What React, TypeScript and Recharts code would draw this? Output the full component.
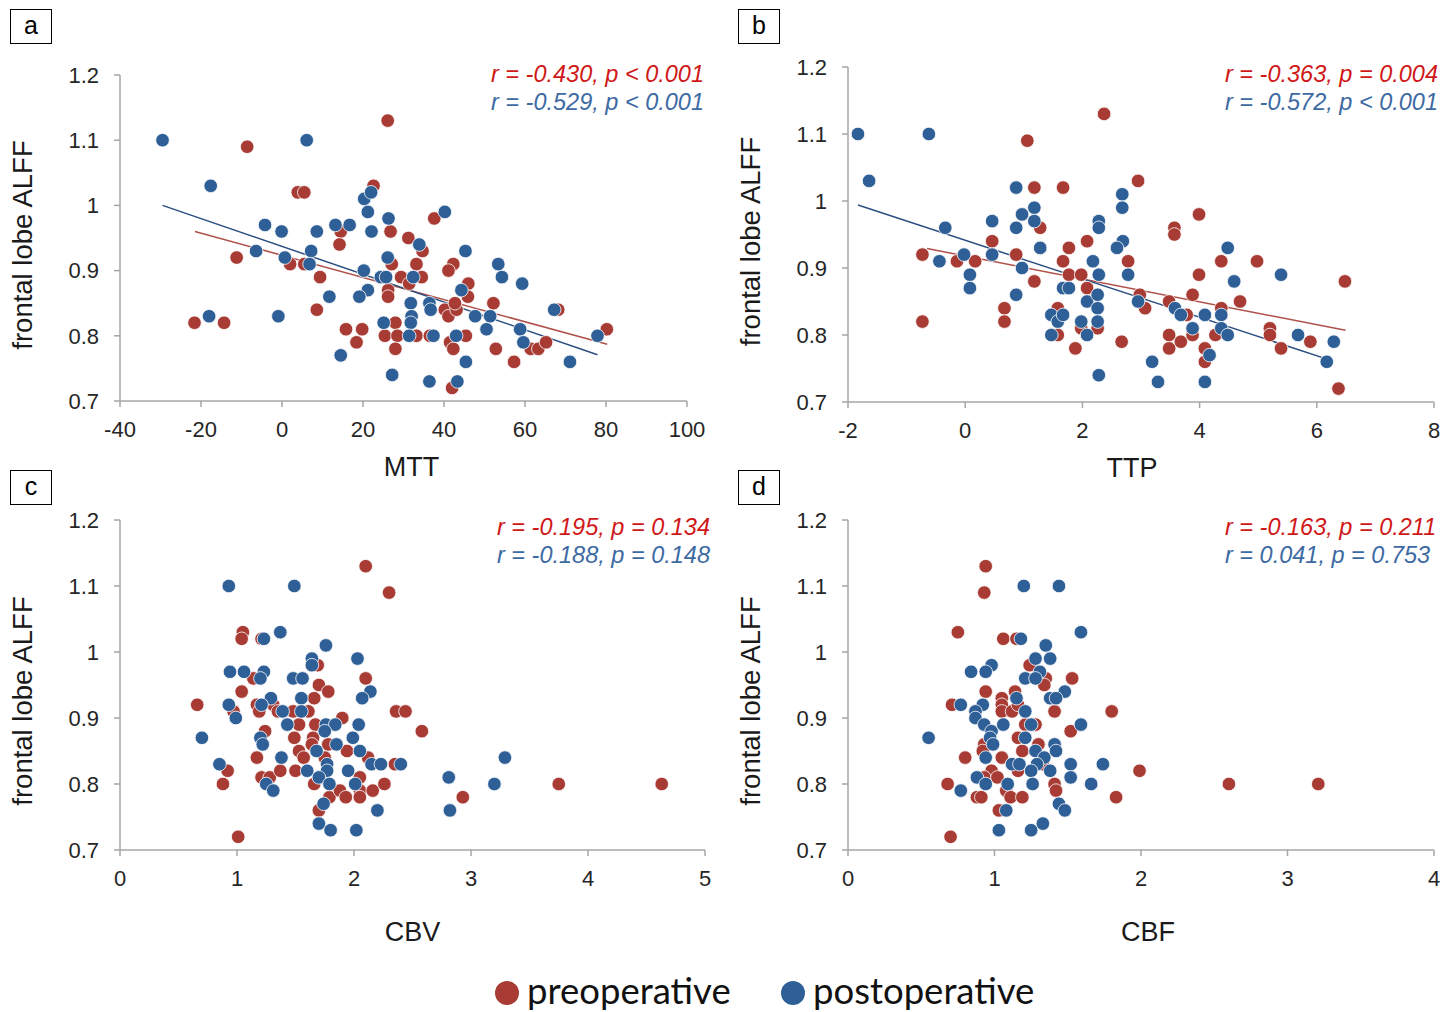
import React from 'react';
import { ScatterChart, Scatter, XAxis, YAxis, ReferenceLine, Label } from 'recharts';

// colours
const RED = '#a83c35';
const BLUE = '#2e5f96';
const RED_TEXT = '#d01818';
const BLUE_TEXT = '#3d6aa3';
const AXIS = '#a6a6a6';
const TEXT = '#262626';
const FONT = '"Liberation Sans", Arial, sans-serif';

type Pt = [number, number];

// shared y axis
const yTicks = [0.7, 0.8, 0.9, 1, 1.1, 1.2];

// x ticks per panel
const mttTicks = [-40, -20, 0, 20, 40, 60, 80, 100];
const ttpTicks = [-2, 0, 2, 4, 6, 8];
const cbvTicks = [0, 1, 2, 3, 4, 5];
const cbfTicks = [0, 1, 2, 3, 4];

// panel a: MTT vs frontal lobe ALFF
const mttPre: Pt[] = [
  [26.1, 1.13], [-8.6, 1.09], [3.9, 1.02], [5.5, 1.02], [22.6, 1.03], [-11.2, 0.92], [2.0, 0.91],
  [5.5, 0.91], [14.5, 0.96], [14.2, 0.94], [9.4, 0.89], [26.8, 0.96], [27.1, 0.91], [31.2, 0.95],
  [29.4, 0.89], [31.4, 0.88], [26.2, 0.87], [26.2, 0.86], [8.6, 0.84], [-21.6, 0.82], [-14.3, 0.82],
  [15.8, 0.81], [19.8, 0.81], [18.4, 0.79], [28.0, 0.82], [25.4, 0.8], [28.5, 0.8], [28.0, 0.78],
  [37.6, 0.98], [34.7, 0.93], [33.2, 0.91], [42.3, 0.91], [41.1, 0.9], [46.0, 0.88], [45.9, 0.86],
  [34.5, 0.89], [40.2, 0.84], [41.1, 0.83], [43.1, 0.84], [42.7, 0.85], [52.2, 0.85], [33.2, 0.8],
  [36.5, 0.8], [45.4, 0.8], [41.5, 0.79], [42.3, 0.78], [42.0, 0.72], [52.8, 0.78], [57.3, 0.76],
  [61.4, 0.78], [63.3, 0.78], [65.2, 0.79], [68.2, 0.84], [80.2, 0.81],
];
const mttPost: Pt[] = [
  [-29.5, 1.1], [6.1, 1.1], [-17.6, 1.03], [-4.2, 0.97], [-0.1, 0.96], [-6.4, 0.93], [0.7, 0.92],
  [7.2, 0.93], [6.8, 0.91], [8.6, 0.96], [13.2, 0.97], [16.7, 0.97], [20.3, 1.01], [22.0, 1.02],
  [21.2, 0.99], [22.1, 0.96], [26.3, 0.98], [26.1, 0.92], [20.2, 0.9], [24.4, 0.89], [25.7, 0.89],
  [21.2, 0.87], [19.1, 0.86], [11.7, 0.86], [-18.0, 0.83], [-0.9, 0.83], [25.1, 0.82], [14.5, 0.77],
  [27.2, 0.74], [40.2, 0.99], [33.9, 0.94], [45.3, 0.93], [53.4, 0.91], [54.3, 0.89], [59.3, 0.88],
  [44.3, 0.87], [32.4, 0.89], [31.8, 0.85], [36.4, 0.85], [36.7, 0.84], [32.0, 0.83], [31.8, 0.82],
  [31.4, 0.8], [37.4, 0.8], [43.0, 0.8], [47.7, 0.83], [51.4, 0.83], [50.5, 0.81], [58.8, 0.81],
  [59.6, 0.79], [45.4, 0.76], [67.2, 0.84], [71.1, 0.76], [77.9, 0.8], [36.4, 0.73], [43.3, 0.73],
];
const mttFitPre: Pt[] = [[-21.5, 0.96], [80.3, 0.787]];
const mttFitPost: Pt[] = [[-29.5, 1.0], [77.9, 0.771]];

// panel b: TTP
const ttpPre: Pt[] = [
  [2.37, 1.13], [1.06, 1.09], [1.18, 1.02], [1.67, 1.02], [2.95, 1.03], [-0.73, 0.92], [-0.14, 0.91],
  [0.17, 0.91], [0.46, 0.94], [0.87, 0.92], [1.28, 0.96], [1.18, 0.88], [-0.73, 0.82], [0.67, 0.84],
  [0.67, 0.82], [1.77, 0.93], [1.67, 0.91], [1.77, 0.89], [1.98, 0.89], [2.08, 0.94], [2.08, 0.87],
  [1.58, 0.84], [1.58, 0.8], [1.98, 0.81], [2.26, 0.81], [1.88, 0.78], [2.67, 0.79], [2.78, 0.91],
  [3.99, 0.98], [3.57, 0.96], [3.57, 0.95], [4.37, 0.91], [4.98, 0.91], [3.99, 0.89], [3.88, 0.86],
  [2.98, 0.86], [3.07, 0.84], [3.48, 0.85], [3.78, 0.83], [4.37, 0.84], [4.69, 0.85], [3.48, 0.8],
  [3.48, 0.78], [3.68, 0.79], [3.88, 0.8], [4.09, 0.78], [4.09, 0.76], [4.27, 0.8], [5.2, 0.81],
  [5.2, 0.8], [5.39, 0.78], [5.89, 0.79], [6.37, 0.72], [6.48, 0.88],
];
const ttpPost: Pt[] = [
  [-1.83, 1.1], [-0.62, 1.1], [-1.64, 1.03], [-0.34, 0.96], [-0.44, 0.91], [-0.02, 0.92], [0.08, 0.89],
  [0.08, 0.87], [0.46, 0.97], [0.46, 0.92], [0.87, 1.02], [0.87, 0.96], [0.97, 0.98], [1.18, 0.99],
  [1.18, 0.97], [1.28, 0.93], [0.97, 0.9], [0.87, 0.86], [1.47, 0.83], [1.58, 0.82], [1.67, 0.83],
  [1.47, 0.8], [1.67, 0.87], [1.77, 0.87], [1.98, 0.82], [2.08, 0.8], [2.08, 0.85], [2.26, 0.86],
  [2.26, 0.84], [2.26, 0.82], [2.18, 0.91], [2.28, 0.89], [2.28, 0.97], [2.28, 0.96], [2.68, 1.01],
  [2.68, 0.99], [2.69, 0.94], [2.59, 0.93], [2.78, 0.89], [2.95, 0.85], [2.28, 0.74], [4.48, 0.93],
  [4.59, 0.88], [5.39, 0.89], [3.58, 0.84], [3.68, 0.83], [4.09, 0.83], [4.37, 0.83], [3.88, 0.81],
  [4.37, 0.81], [4.48, 0.8], [4.17, 0.77], [3.19, 0.76], [3.29, 0.73], [4.09, 0.73], [5.68, 0.8],
  [6.17, 0.76], [6.29, 0.79],
];
const ttpFitPre: Pt[] = [[-0.65, 0.929], [6.49, 0.807]];
const ttpFitPost: Pt[] = [[-1.83, 0.994], [6.28, 0.761]];

// panel c: CBV
const cbvPre: Pt[] = [
  [2.1, 1.13], [2.3, 1.09], [1.05, 1.03], [1.04, 1.02], [1.21, 1.02], [1.69, 0.98], [1.14, 0.96],
  [2.1, 0.96], [1.04, 0.94], [1.7, 0.95], [1.78, 0.94], [0.66, 0.92], [1.17, 0.92], [1.19, 0.91],
  [1.31, 0.92], [1.35, 0.91], [0.97, 0.91], [1.48, 0.91], [1.61, 0.91], [1.66, 0.93], [1.9, 0.9],
  [2.36, 0.91], [2.44, 0.91], [1.53, 0.89], [1.67, 0.89], [1.24, 0.88], [1.49, 0.87], [1.65, 0.87],
  [1.64, 0.86], [1.78, 0.86], [1.53, 0.85], [1.57, 0.84], [1.94, 0.85], [1.75, 0.84], [1.17, 0.84],
  [2.12, 0.84], [0.92, 0.82], [0.88, 0.8], [1.21, 0.81], [1.28, 0.81], [1.37, 0.82], [1.5, 0.82],
  [1.66, 0.8], [2.05, 0.81], [1.79, 0.78], [1.88, 0.79], [1.93, 0.78], [2.05, 0.79], [2.05, 0.78],
  [2.16, 0.79], [2.26, 0.8], [2.35, 0.83], [1.7, 0.76], [1.01, 0.72], [2.58, 0.88], [2.93, 0.78],
  [3.75, 0.8], [4.63, 0.8],
];
const cbvPost: Pt[] = [
  [0.93, 1.1], [1.49, 1.1], [1.37, 1.03], [1.23, 1.02], [1.76, 1.01], [1.64, 0.99], [1.64, 0.98],
  [2.03, 0.99], [0.94, 0.97], [1.06, 0.97], [1.23, 0.97], [1.2, 0.96], [1.48, 0.96], [1.56, 0.96],
  [2.14, 0.94], [2.07, 0.93], [1.29, 0.93], [1.21, 0.92], [1.55, 0.93], [0.93, 0.92], [0.99, 0.9],
  [1.39, 0.91], [1.55, 0.91], [1.43, 0.89], [1.76, 0.89], [1.84, 0.89], [1.75, 0.88], [2.04, 0.89],
  [0.7, 0.87], [1.2, 0.87], [1.22, 0.86], [1.99, 0.87], [1.85, 0.86], [1.68, 0.85], [2.05, 0.85],
  [1.38, 0.84], [0.85, 0.83], [1.77, 0.83], [1.77, 0.82], [1.6, 0.82], [1.95, 0.82], [2.15, 0.83],
  [2.23, 0.83], [2.4, 0.83], [1.7, 0.81], [1.25, 0.8], [1.31, 0.79], [1.79, 0.8], [2.01, 0.8],
  [1.74, 0.77], [2.2, 0.76], [1.7, 0.74], [1.8, 0.73], [2.02, 0.73], [2.81, 0.81], [2.82, 0.76],
  [3.2, 0.8], [3.29, 0.84],
];

// panel d: CBF
const cbfPre: Pt[] = [
  [0.94, 1.13], [0.93, 1.09], [0.75, 1.03], [1.06, 1.02], [1.15, 1.02], [1.24, 0.98], [1.35, 0.96],
  [1.34, 0.95], [1.53, 0.96], [0.94, 0.94], [1.14, 0.94], [1.05, 0.93], [0.71, 0.92], [1.05, 0.92],
  [1.05, 0.91], [1.12, 0.91], [1.16, 0.92], [1.41, 0.91], [1.8, 0.91], [1.21, 0.89], [1.28, 0.89],
  [1.52, 0.88], [1.16, 0.87], [1.3, 0.86], [0.93, 0.86], [0.92, 0.85], [1.19, 0.85], [0.8, 0.84],
  [1.05, 0.84], [1.12, 0.83], [1.33, 0.83], [0.98, 0.82], [0.93, 0.81], [1.02, 0.81], [1.16, 0.82],
  [0.68, 0.8], [1.41, 0.8], [1.42, 0.79], [1.08, 0.79], [0.88, 0.78], [0.91, 0.78], [1.11, 0.78],
  [1.19, 0.78], [1.03, 0.76], [1.83, 0.78], [1.99, 0.82], [0.7, 0.72], [2.6, 0.8], [3.21, 0.8],
];
const cbfPost: Pt[] = [
  [1.2, 1.1], [1.44, 1.1], [1.59, 1.03], [1.18, 1.02], [1.35, 1.01], [1.28, 0.99], [1.38, 0.99],
  [0.98, 0.98], [0.94, 0.97], [0.84, 0.97], [1.31, 0.97], [1.21, 0.96], [1.28, 0.96], [1.48, 0.94],
  [1.38, 0.93], [1.42, 0.93], [0.77, 0.92], [0.92, 0.92], [0.87, 0.91], [0.87, 0.9], [1.15, 0.93],
  [1.21, 0.91], [0.93, 0.89], [0.98, 0.88], [0.97, 0.87], [0.99, 0.86], [1.06, 0.89], [1.25, 0.89],
  [1.21, 0.87], [1.59, 0.89], [0.55, 0.87], [1.41, 0.86], [1.42, 0.85], [1.28, 0.85], [1.34, 0.84],
  [1.29, 0.83], [0.94, 0.84], [1.12, 0.83], [1.17, 0.83], [1.25, 0.82], [1.38, 0.82], [1.52, 0.83],
  [1.74, 0.83], [1.52, 0.81], [0.88, 0.81], [0.94, 0.8], [1.09, 0.8], [1.26, 0.8], [1.66, 0.8],
  [0.77, 0.79], [1.44, 0.77], [1.48, 0.76], [1.08, 0.76], [1.33, 0.74], [1.03, 0.73], [1.25, 0.73],
];

// correlation text per panel: [pre, post]
const statsA = ['r = -0.430, p < 0.001', 'r = -0.529, p < 0.001'];
const statsB = ['r = -0.363, p = 0.004', 'r = -0.572, p < 0.001'];
const statsC = ['r = -0.195, p = 0.134', 'r = -0.188, p = 0.148'];
const statsD = ['r = -0.163, p = 0.211', 'r = 0.041, p = 0.753'];

const legendNames = ['preoperative', 'postoperative'];

const toObj = (arr: Pt[]) => arr.map(([x, y]) => ({ x, y }));

const dot = (color: string) => (p: any) => (
  <circle cx={p.cx} cy={p.cy} r={6.8} fill={color} stroke="#ffffff" strokeWidth={0.8} />
);

interface PanelProps {
  left: number;
  top: number;
  width: number;
  height: number;
  margin: { top: number; right: number; bottom: number; left: number };
  xAxisHeight: number;
  xDomain: [number, number];
  xTicks: number[];
  xLabel: string;
  xLabelDx: number;
  yLabelShift: number;
  pre: Pt[];
  post: Pt[];
  fitPre?: Pt[];
  fitPost?: Pt[];
}

function Panel(props: PanelProps) {
  const { left, top, width, height, margin, xAxisHeight, xDomain, xTicks, xLabel, xLabelDx, yLabelShift, pre, post, fitPre, fitPost } = props;
  return (
    <div style={{ position: 'absolute', left, top }}>
      <ScatterChart width={width} height={height} margin={margin}>
        <XAxis
          type="number"
          dataKey="x"
          domain={xDomain}
          ticks={xTicks}
          interval={0}
          height={xAxisHeight}
          stroke={AXIS}
          strokeWidth={1.5}
          tickSize={6}
          tickMargin={14}
          tick={{ fill: TEXT, fontSize: 22, fontFamily: FONT }}
          allowDataOverflow
        >
          <Label value={xLabel} position="insideBottom" offset={0} dx={xLabelDx} style={{ fill: '#1a1a1a', fontSize: 27, fontFamily: FONT }} />
        </XAxis>
        <YAxis
          type="number"
          dataKey="y"
          domain={[0.7, 1.2]}
          ticks={yTicks}
          interval={0}
          width={110}
          stroke={AXIS}
          strokeWidth={1.5}
          tickSize={6}
          tickMargin={15}
          tick={{ fill: TEXT, fontSize: 22, fontFamily: FONT }}
          allowDataOverflow
        >
          <Label
            value="frontal lobe ALFF"
            angle={-90}
            position="insideLeft"
            offset={12}
            dy={yLabelShift}
            style={{ textAnchor: 'middle', fill: '#1a1a1a', fontSize: 27.5, fontFamily: FONT }}
          />
        </YAxis>
        <Scatter data={toObj(pre)} fill={RED} shape={dot(RED)} isAnimationActive={false} />
        <Scatter data={toObj(post)} fill={BLUE} shape={dot(BLUE)} isAnimationActive={false} />
        {fitPre && (
          <ReferenceLine
            segment={[{ x: fitPre[0][0], y: fitPre[0][1] }, { x: fitPre[1][0], y: fitPre[1][1] }]}
            stroke="#b0504a"
            strokeWidth={1.5}
            ifOverflow="visible"
          />
        )}
        {fitPost && (
          <ReferenceLine
            segment={[{ x: fitPost[0][0], y: fitPost[0][1] }, { x: fitPost[1][0], y: fitPost[1][1] }]}
            stroke="#2c4f80"
            strokeWidth={1.5}
            ifOverflow="visible"
          />
        )}
      </ScatterChart>
    </div>
  );
}

function Stats({ x, y, lines }: { x: number; y: number; lines: string[] }) {
  return (
    <g style={{ fontFamily: FONT, fontStyle: 'italic', fontSize: 23.5 }}>
      <text x={x} y={y} fill={RED_TEXT}>{lines[0]}</text>
      <text x={x} y={y + 28} fill={BLUE_TEXT}>{lines[1]}</text>
    </g>
  );
}

function Tag({ x, y, letter }: { x: number; y: number; letter: string }) {
  return (
    <g>
      <rect x={x + 0.5} y={y + 0.5} width={41} height={34} fill="#ffffff" stroke="#000000" strokeWidth={1} />
      <text x={x + 21} y={y + 25} textAnchor="middle" fontSize={25} fontFamily={FONT} fill="#000000">{letter}</text>
    </g>
  );
}

export default function App() {
  return (
    <div style={{ position: 'absolute', left: 0, top: 0, width: 1455, height: 1012, background: '#ffffff', overflow: 'hidden' }}>
      <Panel
        left={0} top={0} width={720} height={500}
        margin={{ top: 75, right: 33, bottom: 24, left: 10 }}
        xAxisHeight={75}
        xDomain={[-40, 100]} xTicks={mttTicks} xLabel="MTT" xLabelDx={8} yLabelShift={7}
        pre={mttPre} post={mttPost} fitPre={mttFitPre} fitPost={mttFitPost}
      />
      <Panel
        left={728} top={0} width={727} height={500}
        margin={{ top: 67, right: 21, bottom: 23, left: 10 }}
        xAxisHeight={75}
        xDomain={[-2, 8]} xTicks={ttpTicks} xLabel="TTP" xLabelDx={-9} yLabelShift={7}
        pre={ttpPre} post={ttpPost} fitPre={ttpFitPre} fitPost={ttpFitPost}
      />
      <Panel
        left={0} top={460} width={720} height={500}
        margin={{ top: 60, right: 15, bottom: 19, left: 10 }}
        xAxisHeight={91}
        xDomain={[0, 5]} xTicks={cbvTicks} xLabel="CBV" xLabelDx={0} yLabelShift={16}
        pre={cbvPre} post={cbvPost}
      />
      <Panel
        left={728} top={460} width={727} height={500}
        margin={{ top: 60, right: 21, bottom: 19, left: 10 }}
        xAxisHeight={91}
        xDomain={[0, 4]} xTicks={cbfTicks} xLabel="CBF" xLabelDx={7} yLabelShift={16}
        pre={cbfPre} post={cbfPost}
      />
      <svg width={1455} height={1012} style={{ position: 'absolute', left: 0, top: 0, pointerEvents: 'none' }}>
        <Tag x={10} y={9} letter="a" />
        <Tag x={738} y={9} letter="b" />
        <Tag x={10} y={470} letter="c" />
        <Tag x={738} y={470} letter="d" />
        <Stats x={491} y={82} lines={statsA} />
        <Stats x={1225} y={82} lines={statsB} />
        <Stats x={497} y={535} lines={statsC} />
        <Stats x={1225} y={535} lines={statsD} />
        <g style={{ fontFamily: 'Lato, "Open Sans", sans-serif', fontSize: 36.5 }}>
          <circle cx={507} cy={993} r={12} fill={RED} />
          <text x={527} y={1004} fill="#111111">{legendNames[0]}</text>
          <circle cx={793} cy={993} r={12} fill={BLUE} />
          <text x={813} y={1004} fill="#111111">{legendNames[1]}</text>
        </g>
      </svg>
    </div>
  );
}
